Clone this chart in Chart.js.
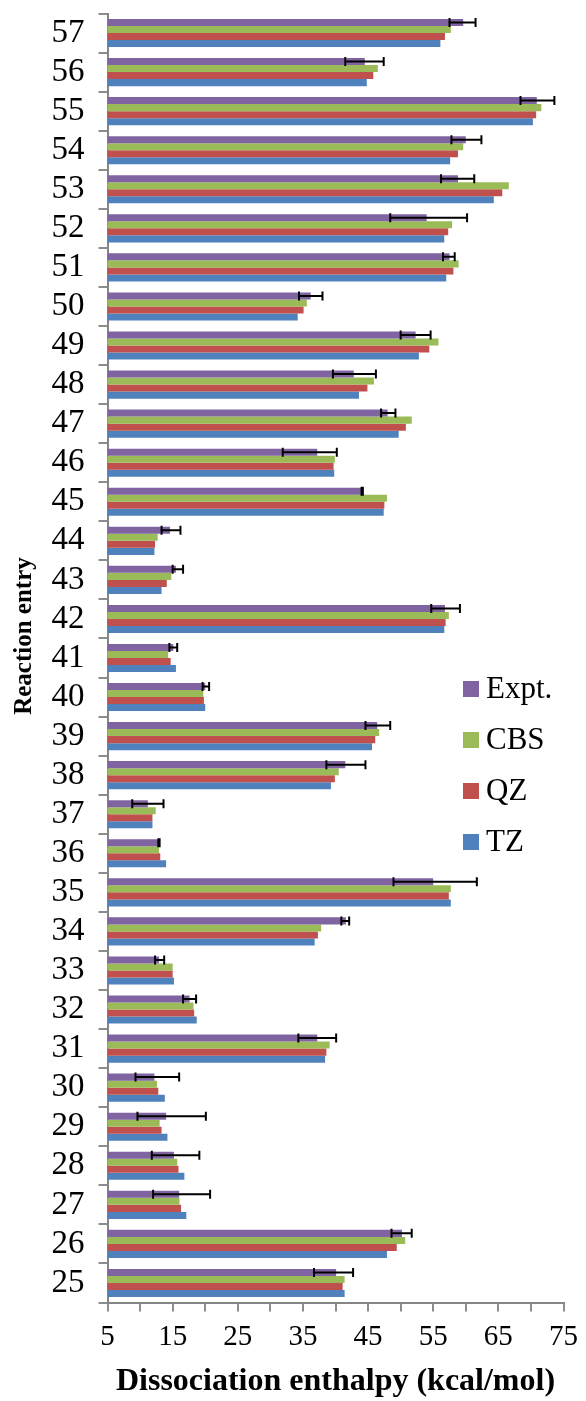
<!DOCTYPE html>
<html>
<head>
<meta charset="utf-8">
<script src="https://cdn.jsdelivr.net/npm/chart.js@4.4.1/dist/chart.umd.min.js"></script>
<style>
  html, body { margin: 0; padding: 0; background: #fff; }
  #wrap { width: 586px; height: 1401px; }
</style>
</head>
<body>
<div id="wrap"><canvas id="chart" width="586" height="1401"></canvas></div>
<script>
// Reaction entries, bottom (25) to top (57)
const categories = ['25','26','27','28','29','30','31','32','33','34','35','36','37','38','39','40','41',
                    '42','43','44','45','46','47','48','49','50','51','52','53','54','55','56','57'];

const expt = [40.1, 50.2, 16.0, 15.2, 14.0, 12.2, 37.2, 17.6, 12.9, 41.6, 55.0, 12.9, 11.2, 41.5, 46.4, 20.0, 15.1,
              56.8, 15.5, 14.6, 44.1, 37.2, 48.0, 42.8, 52.3, 36.2, 57.5, 54.0, 58.8, 60.0, 70.9, 44.5, 59.6];
const cbs  = [41.4, 50.7, 16.05, 15.7, 13.0, 12.6, 39.1, 18.2, 15.0, 37.8, 57.7, 12.9, 12.4, 40.5, 46.7, 19.7, 14.3,
              57.4, 14.8, 12.7, 47.9, 39.9, 51.7, 45.9, 55.8, 35.6, 58.9, 57.9, 66.6, 59.6, 71.6, 46.5, 57.7];
const qz   = [41.1, 49.4, 16.3, 15.9, 13.3, 12.8, 38.6, 18.3, 15.0, 37.3, 57.4, 13.1, 11.9, 39.9, 46.1, 19.8, 14.7,
              56.9, 14.1, 12.3, 47.5, 39.7, 50.8, 44.9, 54.4, 35.1, 58.1, 57.3, 65.6, 58.8, 70.8, 45.8, 56.8];
const tz   = [41.4, 47.9, 17.1, 16.8, 14.2, 13.8, 38.4, 18.7, 15.2, 36.8, 57.7, 14.0, 11.9, 39.3, 45.6, 20.0, 15.5,
              56.7, 13.3, 12.2, 47.4, 39.8, 49.7, 43.6, 52.8, 34.2, 57.0, 56.7, 64.3, 57.6, 70.3, 44.8, 56.1];

// experimental uncertainty (minus / plus)
const errMinus = [3.4, 1.6, 4.0, 3.4, 4.4, 2.9, 2.9, 1.0, 0.6, 0.7, 6.1, 0.1, 2.4, 2.9, 1.8, 0.4, 0.6,
                  2.1, 0.5, 1.3, 0.1, 5.3, 1.0, 3.2, 2.3, 1.8, 1.0, 5.6, 2.6, 2.2, 2.5, 3.0, 2.1];
const errPlus  = [2.6, 1.5, 4.75, 3.9, 6.1, 3.8, 2.9, 1.0, 0.8, 0.5, 6.7, 0.1, 2.4, 3.1, 2.0, 0.6, 0.6,
                  2.3, 1.1, 1.6, 0.1, 3.0, 1.2, 3.4, 2.3, 1.8, 0.8, 6.2, 2.5, 2.4, 2.7, 2.9, 1.9];

const FONT = '"Liberation Serif", "Times New Roman", serif';

// error bars on the Expt. series
const errorBars = {
    id: 'errorBars',
    afterDatasetsDraw(chart) {
        const ctx = chart.ctx;
        const x = chart.scales.x;
        const meta = chart.getDatasetMeta(0);
        ctx.save();
        ctx.strokeStyle = '#000';
        ctx.lineWidth = 2;
        meta.data.forEach((bar, i) => {
            const x1 = x.getPixelForValue(expt[i] - errMinus[i]);
            const x2 = x.getPixelForValue(expt[i] + errPlus[i]);
            const y = bar.y;
            ctx.beginPath();
            ctx.moveTo(x1, y); ctx.lineTo(x2, y);
            ctx.moveTo(x1, y - 4.5); ctx.lineTo(x1, y + 4.5);
            ctx.moveTo(x2, y - 4.5); ctx.lineTo(x2, y + 4.5);
            ctx.stroke();
        });
        ctx.restore();
    }
};

// legend drawn inside the plot area, plus the y title (sits a bit above centre)
const extras = {
    id: 'extras',
    afterDraw(chart) {
        const ctx = chart.ctx;
        const area = chart.chartArea;
        ctx.save();
        ctx.font = '31px ' + FONT;
        ctx.textBaseline = 'middle';
        chart.data.datasets.forEach((ds, i) => {
            const cy = 689 + i * 51;
            ctx.fillStyle = ds.backgroundColor;
            ctx.fillRect(463, cy - 8, 16, 16);
            ctx.fillStyle = '#000';
            ctx.fillText(ds.label, 486, cy + 1);
        });

        ctx.translate(25, (area.top + area.bottom) / 2 - 22);
        ctx.rotate(-Math.PI / 2);
        ctx.font = 'bold 25px ' + FONT;
        ctx.textAlign = 'center';
        ctx.fillStyle = '#000';
        ctx.fillText('Reaction entry', 0, 0);
        ctx.restore();
    }
};

const ctx = document.getElementById('chart').getContext('2d');
new Chart(ctx, {
    type: 'bar',
    data: {
        labels: categories,
        datasets: [
            { label: 'Expt.', data: expt, backgroundColor: '#8064A2' },
            { label: 'CBS',   data: cbs,  backgroundColor: '#9BBB59' },
            { label: 'QZ',    data: qz,   backgroundColor: '#C0504D' },
            { label: 'TZ',    data: tz,   backgroundColor: '#4F81BD' }
        ]
    },
    options: {
        indexAxis: 'y',
        responsive: false,
        animation: false,
        devicePixelRatio: 1,
        datasets: { bar: { barPercentage: 1.0, categoryPercentage: 0.72, borderWidth: 0 } },
        layout: { padding: { left: 0, right: 17, top: 13.5, bottom: 0 } },
        plugins: { legend: { display: false }, tooltip: { enabled: false } },
        scales: {
            x: {
                min: 5, max: 75,
                grid: { drawOnChartArea: false, drawTicks: true, tickLength: 9, color: '#8c8c8c', lineWidth: 2 },
                border: { color: '#868686', width: 2 },
                ticks: {
                    stepSize: 5,
                    autoSkip: false,
                    maxRotation: 0,
                    padding: 8,
                    color: '#000',
                    font: { family: FONT, size: 29 },
                    callback: (v) => ((v - 5) % 10 === 0 ? String(v) : '')
                },
                title: {
                    display: true,
                    text: 'Dissociation enthalpy (kcal/mol)',
                    color: '#000',
                    font: { family: FONT, size: 32, weight: 'bold' },
                    padding: { top: 0, bottom: 0 }
                },
                afterFit: (s) => { s.height = 98.5; }
            },
            y: {
                reverse: true,
                grid: { drawOnChartArea: false, drawTicks: true, tickLength: 9, color: '#8c8c8c', lineWidth: 2, offset: true },
                border: { color: '#868686', width: 2 },
                ticks: {
                    autoSkip: false,
                    padding: 14,
                    color: '#000',
                    font: { family: FONT, size: 33 }
                },
                afterFit: (s) => {
                    s.width = 107.5;
                    // labels sit inside the category bands, no extra room needed
                    s.paddingTop = 0;
                    s.paddingBottom = 0;
                }
            }
        }
    },
    plugins: [errorBars, extras]
});
</script>
</body>
</html>
